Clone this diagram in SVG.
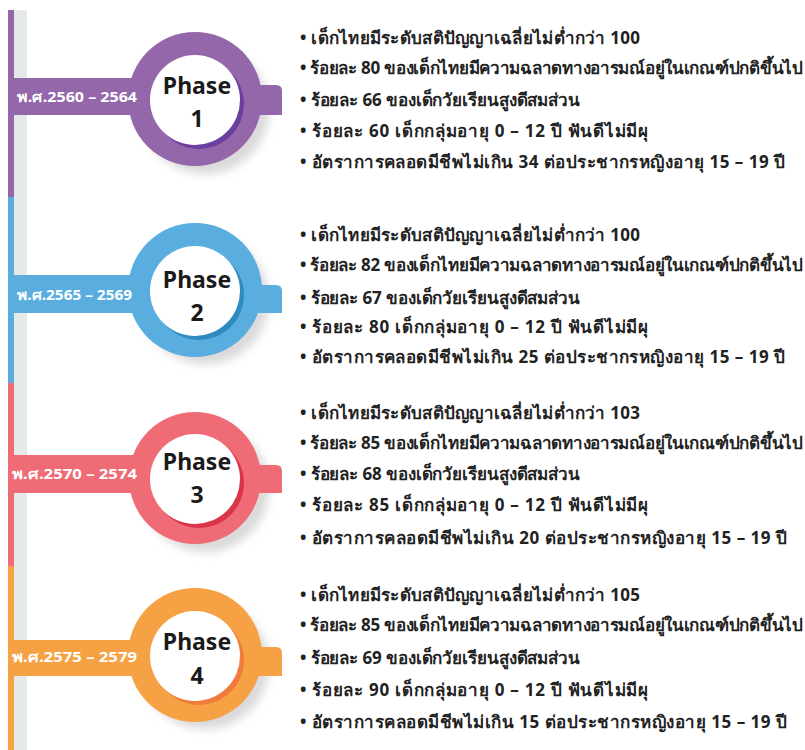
<svg xmlns="http://www.w3.org/2000/svg" width="805" height="750" viewBox="0 0 805 750">
<style>
.t{font-family:"Noto Sans","DejaVu Sans",sans-serif;font-size:17px;font-weight:bold;fill:#222}
.ph{font-family:"Noto Sans","DejaVu Sans",sans-serif;font-size:23px;font-weight:bold;fill:#1a1a1a;text-anchor:middle}
.yr{font-family:"Noto Sans","DejaVu Sans",sans-serif;font-size:13.5px;font-weight:bold;fill:#fff}
</style>
<defs>
<filter id="sh" x="-30%" y="-30%" width="160%" height="160%"><feGaussianBlur stdDeviation="5"/></filter>
</defs>
<rect width="805" height="750" fill="#fff"/>
<rect x="13" y="10" width="14" height="740" fill="#e6e9e9"/>
<rect x="8" y="10" width="6" height="187" fill="#9467ab"/>
<rect x="8" y="197" width="6" height="186" fill="#5aaedf"/>
<rect x="8" y="383" width="6" height="183" fill="#ef6b76"/>
<rect x="8" y="566" width="6" height="184" fill="#f6a244"/>

<g id="phase1">
<circle cx="205" cy="110" r="64" fill="#d9d9d9" filter="url(#sh)"/>
<rect x="14" y="78" width="130" height="37" fill="#9467ab"/>
<path d="M255 85 H276 Q282 85 282 91 V115 H255 Z" fill="#9467ab"/>
<circle cx="195" cy="99" r="67" fill="#9467ab"/>
<circle cx="199" cy="104" r="45" fill="#6b3fa0"/>
<circle cx="195" cy="100" r="45" fill="#fff"/>
<text class="yr" x="17" y="102" textLength="120" lengthAdjust="spacingAndGlyphs">พ.ศ.2560 – 2564</text>
<text class="ph" x="197" y="94">Phase</text>
<text class="ph" x="197" y="127">1</text>
</g>
<g id="text1" class="t">
<text x="300" y="44" textLength="340">• เด็กไทยมีระดับสติปัญญาเฉลี่ยไม่ต่ำกว่า 100</text>
<text x="300" y="74" textLength="503">• ร้อยละ 80 ของเด็กไทยมีความฉลาดทางอารมณ์อยู่ในเกณฑ์ปกติขึ้นไป</text>
<text x="300" y="106" textLength="280">• ร้อยละ 66 ของเด็กวัยเรียนสูงดีสมส่วน</text>
<text x="300" y="137" textLength="348">• ร้อยละ 60 เด็กกลุ่มอายุ 0 – 12 ปี ฟันดีไม่มีผุ</text>
<text x="300" y="168" textLength="485">• อัตราการคลอดมีชีพไม่เกิน 34 ต่อประชากรหญิงอายุ 15 – 19 ปี</text>
</g>

<g id="phase2">
<circle cx="205" cy="300" r="64" fill="#d9d9d9" filter="url(#sh)"/>
<rect x="14" y="275" width="130" height="38" fill="#5aaedf"/>
<path d="M255 285 H276 Q282 285 282 291 V313 H255 Z" fill="#5aaedf"/>
<circle cx="195" cy="290" r="67" fill="#5aaedf"/>
<circle cx="199" cy="295" r="45" fill="#2e8bbf"/>
<circle cx="195" cy="291" r="45" fill="#fff"/>
<text class="yr" x="17" y="300" textLength="115" lengthAdjust="spacingAndGlyphs">พ.ศ.2565 – 2569</text>
<text class="ph" x="197" y="288">Phase</text>
<text class="ph" x="197" y="321">2</text>
</g>
<g id="text2" class="t">
<text x="300" y="241" textLength="340">• เด็กไทยมีระดับสติปัญญาเฉลี่ยไม่ต่ำกว่า 100</text>
<text x="300" y="271" textLength="503">• ร้อยละ 82 ของเด็กไทยมีความฉลาดทางอารมณ์อยู่ในเกณฑ์ปกติขึ้นไป</text>
<text x="300" y="304" textLength="280">• ร้อยละ 67 ของเด็กวัยเรียนสูงดีสมส่วน</text>
<text x="300" y="333" textLength="348">• ร้อยละ 80 เด็กกลุ่มอายุ 0 – 12 ปี ฟันดีไม่มีผุ</text>
<text x="300" y="363" textLength="485">• อัตราการคลอดมีชีพไม่เกิน 25 ต่อประชากรหญิงอายุ 15 – 19 ปี</text>
</g>

<g id="phase3">
<circle cx="205" cy="488" r="64" fill="#d9d9d9" filter="url(#sh)"/>
<rect x="14" y="455" width="130" height="38" fill="#ef6b76"/>
<path d="M255 465 H276 Q282 465 282 471 V493 H255 Z" fill="#ef6b76"/>
<circle cx="195" cy="478" r="66" fill="#ef6b76"/>
<circle cx="199" cy="483" r="45" fill="#d93448"/>
<circle cx="195" cy="479" r="45" fill="#fff"/>
<text class="yr" x="12" y="479" textLength="125" lengthAdjust="spacingAndGlyphs">พ.ศ.2570 – 2574</text>
<text class="ph" x="197" y="470">Phase</text>
<text class="ph" x="197" y="503">3</text>
</g>
<g id="text3" class="t">
<text x="300" y="419" textLength="340">• เด็กไทยมีระดับสติปัญญาเฉลี่ยไม่ต่ำกว่า 103</text>
<text x="300" y="449" textLength="503">• ร้อยละ 85 ของเด็กไทยมีความฉลาดทางอารมณ์อยู่ในเกณฑ์ปกติขึ้นไป</text>
<text x="300" y="480" textLength="280">• ร้อยละ 68 ของเด็กวัยเรียนสูงดีสมส่วน</text>
<text x="300" y="511" textLength="348">• ร้อยละ 85 เด็กกลุ่มอายุ 0 – 12 ปี ฟันดีไม่มีผุ</text>
<text x="300" y="544" textLength="487">• อัตราการคลอดมีชีพไม่เกิน 20 ต่อประชากรหญิงอายุ 15 – 19 ปี</text>
</g>

<g id="phase4">
<circle cx="205" cy="665" r="64" fill="#d9d9d9" filter="url(#sh)"/>
<rect x="14" y="640" width="130" height="36" fill="#f6a244"/>
<path d="M255 647 H276 Q282 647 282 653 V676 H255 Z" fill="#f6a244"/>
<circle cx="195" cy="655" r="67" fill="#f6a244"/>
<circle cx="199" cy="660" r="45" fill="#f07b3c"/>
<circle cx="195" cy="656" r="45" fill="#fff"/>
<text class="yr" x="12" y="662" textLength="125" lengthAdjust="spacingAndGlyphs">พ.ศ.2575 – 2579</text>
<text class="ph" x="197" y="650">Phase</text>
<text class="ph" x="197" y="684">4</text>
</g>
<g id="text4" class="t">
<text x="300" y="601" textLength="340">• เด็กไทยมีระดับสติปัญญาเฉลี่ยไม่ต่ำกว่า 105</text>
<text x="300" y="631" textLength="503">• ร้อยละ 85 ของเด็กไทยมีความฉลาดทางอารมณ์อยู่ในเกณฑ์ปกติขึ้นไป</text>
<text x="300" y="664" textLength="280">• ร้อยละ 69 ของเด็กวัยเรียนสูงดีสมส่วน</text>
<text x="300" y="696" textLength="348">• ร้อยละ 90 เด็กกลุ่มอายุ 0 – 12 ปี ฟันดีไม่มีผุ</text>
<text x="300" y="728" textLength="487">• อัตราการคลอดมีชีพไม่เกิน 15 ต่อประชากรหญิงอายุ 15 – 19 ปี</text>
</g>
<g id="connectors"/>
</svg>
